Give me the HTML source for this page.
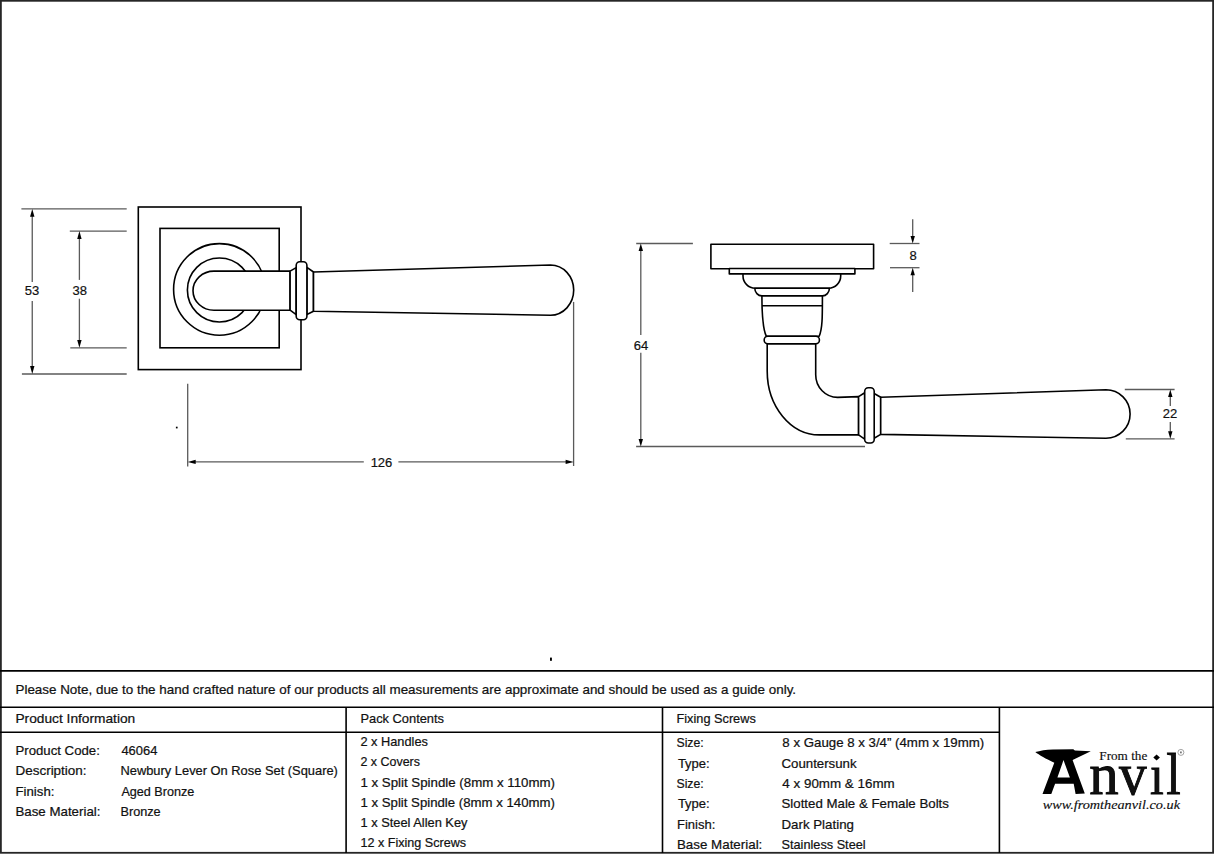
<!DOCTYPE html>
<html><head><meta charset="utf-8">
<style>
html,body{margin:0;padding:0;background:#fff;}
body{width:1214px;height:855px;overflow:hidden;position:relative;}
svg{position:absolute;left:0;top:0;}
text{font-family:"Liberation Sans",sans-serif;fill:#111;}
.t{stroke:#111;stroke-width:0.22px;}
.t{font-size:13px;}
.dim{font-size:13px;stroke:#111;stroke-width:0.2px;}
</style></head><body>
<svg width="1214" height="855" viewBox="0 0 1214 855">
<!-- page border -->
<rect x="0.9" y="0.8" width="1212.2" height="852" fill="none" stroke="#262626" stroke-width="1.8"/>

<!-- ===== LEFT DRAWING (front view) ===== -->
<g fill="none" stroke="#000" stroke-width="1.6">
  <rect x="138.3" y="207" width="162.7" height="162.6"/>
  <rect x="160" y="228.4" width="119.2" height="119.4"/>
  <circle cx="219.4" cy="289.4" r="45.8"/>
  <circle cx="219.4" cy="290" r="32"/>
</g>
<g fill="#fff" stroke="#000" stroke-width="1.6" stroke-linejoin="round">
  <path d="M290.1,271.1 L214,271.1 A21,19.55 0 0 0 214,310.2 L290.1,310.2 Z"/>
  <path d="M290.1,271.1 L296.2,267.6 L296.2,314.6 L290.1,310.2 Z"/>
  <path d="M306.9,267.3 L313.5,272 L313.5,311.3 L306.9,314.5 Z"/>
  <rect x="296.2" y="261.7" width="10.7" height="58" rx="3.5"/>
  <path d="M313.5,272 L550.5,265 A23.2,25.1 0 0 1 550.5,315.2 L313.5,311.3 Z"/>
</g>

<!-- left dims -->
<g stroke="#5a5a5a" stroke-width="1.3" fill="none">
  <line x1="21.4" y1="208.9" x2="126.7" y2="208.9"/>
  <line x1="21.9" y1="374" x2="126.7" y2="374"/>
  <line x1="32.25" y1="215" x2="32.25" y2="281.9"/>
  <line x1="32.25" y1="301.1" x2="32.25" y2="368"/>
  <line x1="69.8" y1="231.1" x2="126.7" y2="231.1"/>
  <line x1="70.3" y1="347.8" x2="126.7" y2="347.8"/>
  <line x1="79.4" y1="237" x2="79.4" y2="279.9"/>
  <line x1="79.4" y1="298.7" x2="79.4" y2="342"/>
  <line x1="187.7" y1="383.8" x2="187.7" y2="466.4"/>
  <line x1="573.6" y1="301.9" x2="573.6" y2="466"/>
  <line x1="194" y1="461.9" x2="363.8" y2="461.9"/>
  <line x1="398.4" y1="461.9" x2="567" y2="461.9"/>
</g>
<g fill="#000">
  <path d="M32.25,208.9 L34.45,216.8 L30.05,216.8 Z"/>
  <path d="M32.25,374 L34.45,366.1 L30.05,366.1 Z"/>
  <path d="M79.4,231.1 L81.6,239 L77.2,239 Z"/>
  <path d="M79.4,347.8 L81.6,339.9 L77.2,339.9 Z"/>
  <path d="M187.7,461.9 L195.7,459.7 L195.7,464.1 Z"/>
  <path d="M573.6,461.9 L565.6,459.7 L565.6,464.1 Z"/>
  <rect x="175.9" y="426.7" width="1.7" height="1.7"/>
  <rect x="550" y="657.6" width="1.9" height="3.2"/>
</g>
<text class="dim" x="32" y="294.7" text-anchor="middle">53</text>
<text class="dim" x="79.7" y="294.7" text-anchor="middle">38</text>
<text class="dim" x="381.5" y="466.5" text-anchor="middle">126</text>

<!-- ===== RIGHT DRAWING (side view) ===== -->
<g fill="#fff" stroke="#000" stroke-width="1.6" stroke-linejoin="round">
  <rect x="710.9" y="244.3" width="162.7" height="24.4"/>
  <rect x="729.3" y="268.5" width="125.6" height="5.4"/>
  <path d="M743,273.9 L743,276 A12.2,12.2 0 0 0 755.2,288.2 L828.5,288.2 A12.2,12.2 0 0 0 840.7,276 L840.7,273.9 Z"/>
  <path d="M754.8,288.2 A7.1,7.7 0 0 0 761.9,295.9 L822.4,295.9 A7,7.7 0 0 0 829.4,288.2 Z"/>
  <path d="M761.9,295.9 C761.9,315 762.5,328 766.3,336.2 L819.2,336.2 C822.6,328 822.4,315 822.4,295.9 Z"/>
  <line x1="762" y1="305.7" x2="822.3" y2="305.7"/>
  <path d="M767.2,343.7 L767.2,371 A52.2,63.9 0 0 0 819.4,434.9 L858.6,434.9 L858.6,396.6 L837.6,397.4 A21.9,22.7 0 0 1 815.7,374.7 L815.7,343.7 Z"/>
  <rect x="764.2" y="336.2" width="55.2" height="7.5" rx="3.5"/>
  <path d="M858.6,396.6 L864.7,392.8 L864.7,439.1 L858.6,434.9 Z"/>
  <path d="M873.7,393.2 L880.7,397.3 L880.7,434.4 L873.7,438.5 Z"/>
  <rect x="864.7" y="387.7" width="9.5" height="55.3" rx="3.5"/>
  <path d="M880.7,397.3 L1106,389.8 A24.1,24.2 0 0 1 1106,438.2 L880.7,434.4 Z"/>
</g>

<!-- right dims -->
<g stroke="#5a5a5a" stroke-width="1.3" fill="none">
  <line x1="636.2" y1="243.5" x2="692.9" y2="243.5"/>
  <line x1="636.1" y1="446.5" x2="865" y2="446.5"/>
  <line x1="640.8" y1="250" x2="640.8" y2="335"/>
  <line x1="640.8" y1="352.7" x2="640.8" y2="440"/>
  <line x1="889.7" y1="243.5" x2="919.5" y2="243.5"/>
  <line x1="890" y1="267.7" x2="919.5" y2="267.7"/>
  <line x1="912.7" y1="219.3" x2="912.7" y2="237"/>
  <line x1="912.7" y1="274" x2="912.7" y2="292.1"/>
  <line x1="1124.8" y1="389.5" x2="1174.6" y2="389.5"/>
  <line x1="1125.8" y1="438.8" x2="1174.6" y2="438.8"/>
  <line x1="1170.3" y1="396" x2="1170.3" y2="405.9"/>
  <line x1="1170.3" y1="421.9" x2="1170.3" y2="432"/>
</g>
<g fill="#000">
  <path d="M640.8,243.5 L643,251.1 L638.6,251.1 Z"/>
  <path d="M640.8,446.5 L643,438.9 L638.6,438.9 Z"/>
  <path d="M912.7,243.5 L914.9,235.9 L910.5,235.9 Z"/>
  <path d="M912.7,267.7 L914.9,275.3 L910.5,275.3 Z"/>
  <path d="M1170.3,389.5 L1172.5,397.1 L1168.1,397.1 Z"/>
  <path d="M1170.3,438.8 L1172.5,431.2 L1168.1,431.2 Z"/>
</g>
<text class="dim" x="641" y="349.5" text-anchor="middle">64</text>
<text class="dim" x="913" y="260.3" text-anchor="middle">8</text>
<text class="dim" x="1170" y="418.2" text-anchor="middle">22</text>

<!-- ===== TABLE ===== -->
<g stroke="#000" stroke-width="1.6" fill="none">
  <line x1="0" y1="670.9" x2="1214" y2="670.9"/>
  <line x1="0" y1="707.3" x2="1214" y2="707.3"/>
  <line x1="0" y1="732.2" x2="999.4" y2="732.2"/>
  <line x1="346.1" y1="707.3" x2="346.1" y2="853"/>
  <line x1="662.5" y1="707.3" x2="662.5" y2="853"/>
  <line x1="999.4" y1="707.3" x2="999.4" y2="853"/>
</g>
<!--TEXTS-->
<text class="t" x="15.48" y="693.80" textLength="780.59" lengthAdjust="spacingAndGlyphs">Please Note, due to the hand crafted nature of our products all measurements are approximate and should be used as a guide only.</text>
<text class="t" x="15.48" y="723.20" textLength="119.74" lengthAdjust="spacingAndGlyphs">Product Information</text>
<text class="t" x="360.48" y="722.90" textLength="83.53" lengthAdjust="spacingAndGlyphs">Pack Contents</text>
<text class="t" x="676.50" y="722.90" textLength="79.29" lengthAdjust="spacingAndGlyphs">Fixing Screws</text>
<text class="t" x="15.48" y="754.50" textLength="84.34" lengthAdjust="spacingAndGlyphs">Product Code:</text>
<text class="t" x="15.48" y="775.00" textLength="71.10" lengthAdjust="spacingAndGlyphs">Description:</text>
<text class="t" x="15.48" y="795.50" textLength="38.94" lengthAdjust="spacingAndGlyphs">Finish:</text>
<text class="t" x="15.48" y="815.50" textLength="84.96" lengthAdjust="spacingAndGlyphs">Base Material:</text>
<text class="t" x="121.38" y="754.50" textLength="35.97" lengthAdjust="spacingAndGlyphs">46064</text>
<text class="t" x="120.48" y="775.00" textLength="217.44" lengthAdjust="spacingAndGlyphs">Newbury Lever On Rose Set (Square)</text>
<text class="t" x="121.38" y="795.50" textLength="72.97" lengthAdjust="spacingAndGlyphs">Aged Bronze</text>
<text class="t" x="120.48" y="815.50" textLength="40.19" lengthAdjust="spacingAndGlyphs">Bronze</text>
<text class="t" x="360.46" y="745.50" textLength="67.43" lengthAdjust="spacingAndGlyphs">2 x Handles</text>
<text class="t" x="360.46" y="765.90" textLength="59.50" lengthAdjust="spacingAndGlyphs">2 x Covers</text>
<text class="t" x="360.46" y="786.50" textLength="194.53" lengthAdjust="spacingAndGlyphs">1 x Split Spindle (8mm x 110mm)</text>
<text class="t" x="360.46" y="806.70" textLength="194.48" lengthAdjust="spacingAndGlyphs">1 x Split Spindle (8mm x 140mm)</text>
<text class="t" x="360.46" y="827.20" textLength="107.00" lengthAdjust="spacingAndGlyphs">1 x Steel Allen Key</text>
<text class="t" x="360.46" y="847.30" textLength="105.66" lengthAdjust="spacingAndGlyphs">12 x Fixing Screws</text>
<text class="t" x="676.48" y="747.30" textLength="27.21" lengthAdjust="spacingAndGlyphs">Size:</text>
<text class="t" x="677.88" y="767.70" textLength="31.81" lengthAdjust="spacingAndGlyphs">Type:</text>
<text class="t" x="676.48" y="787.90" textLength="27.21" lengthAdjust="spacingAndGlyphs">Size:</text>
<text class="t" x="677.88" y="808.20" textLength="31.81" lengthAdjust="spacingAndGlyphs">Type:</text>
<text class="t" x="676.96" y="828.50" textLength="38.32" lengthAdjust="spacingAndGlyphs">Finish:</text>
<text class="t" x="676.96" y="848.50" textLength="85.37" lengthAdjust="spacingAndGlyphs">Base Material:</text>
<text class="t" x="782.38" y="747.30" textLength="201.78" lengthAdjust="spacingAndGlyphs">8 x Gauge 8 x 3/4” (4mm x 19mm)</text>
<text class="t" x="781.48" y="767.70" textLength="75.15" lengthAdjust="spacingAndGlyphs">Countersunk</text>
<text class="t" x="782.38" y="787.90" textLength="112.33" lengthAdjust="spacingAndGlyphs">4 x 90mm &amp; 16mm</text>
<text class="t" x="781.48" y="808.20" textLength="167.45" lengthAdjust="spacingAndGlyphs">Slotted Male &amp; Female Bolts</text>
<text class="t" x="781.48" y="828.50" textLength="72.46" lengthAdjust="spacingAndGlyphs">Dark Plating</text>
<text class="t" x="781.48" y="848.50" textLength="84.18" lengthAdjust="spacingAndGlyphs">Stainless Steel</text>
<!--/TEXTS-->

<!-- ===== LOGO ===== -->
<g fill="#000">
  <path d="M1035.3,752.1 C1040,750.6 1046,749.6 1052.8,749.4 L1073.3,749.3 L1074.9,750.6 L1090.8,751.3 L1072.6,760.1 L1084.8,793.6 L1075.6,793.9 L1073.7,783.7 L1055.1,783.7 L1051.3,793.9 L1042.5,793.9 L1054.3,762.8 C1046,759 1039,755 1035.3,752.1 Z M1063.5,760.1 L1057.4,777.6 L1069.9,777.6 Z" fill-rule="evenodd"/>
  <g style="font-family:'Liberation Serif',serif" font-size="62" stroke="#000" stroke-width="0.9">
    <text x="0" y="0" transform="translate(1089.3,794) scale(0.95,0.94)" style="font-family:'Liberation Serif',serif">n</text>
    <text x="0" y="0" transform="translate(1119.1,794) scale(0.89,0.94)" style="font-family:'Liberation Serif',serif">v</text>
    <text x="0" y="0" transform="translate(1149.9,794) scale(0.8,0.93)" style="font-family:'Liberation Serif',serif">&#x131;</text>
    <text x="0" y="0" transform="translate(1166.3,794) scale(0.84,0.96)" style="font-family:'Liberation Serif',serif">l</text>
  </g>
  <path d="M1156.6,754.4 L1159.9,757.4 L1156.6,760.4 L1153.3,757.4 Z"/>
  <circle cx="1180.9" cy="752.4" r="3" fill="none" stroke="#999" stroke-width="0.9"/>
  <rect x="1180.1" y="751.5" width="1.6" height="1.8" fill="#666"/>
  <text x="1099.3" y="760.2" font-size="13" stroke="#000" stroke-width="0.15" style="font-family:'Liberation Serif',serif" textLength="48" lengthAdjust="spacingAndGlyphs">From the</text>
  <text x="1042.7" y="808.7" font-size="11.8" font-style="italic" stroke="#000" stroke-width="0.12" style="font-family:'Liberation Serif',serif" textLength="137.3" lengthAdjust="spacingAndGlyphs">www.fromtheanvil.co.uk</text>
</g>
</svg>
</body></html>
